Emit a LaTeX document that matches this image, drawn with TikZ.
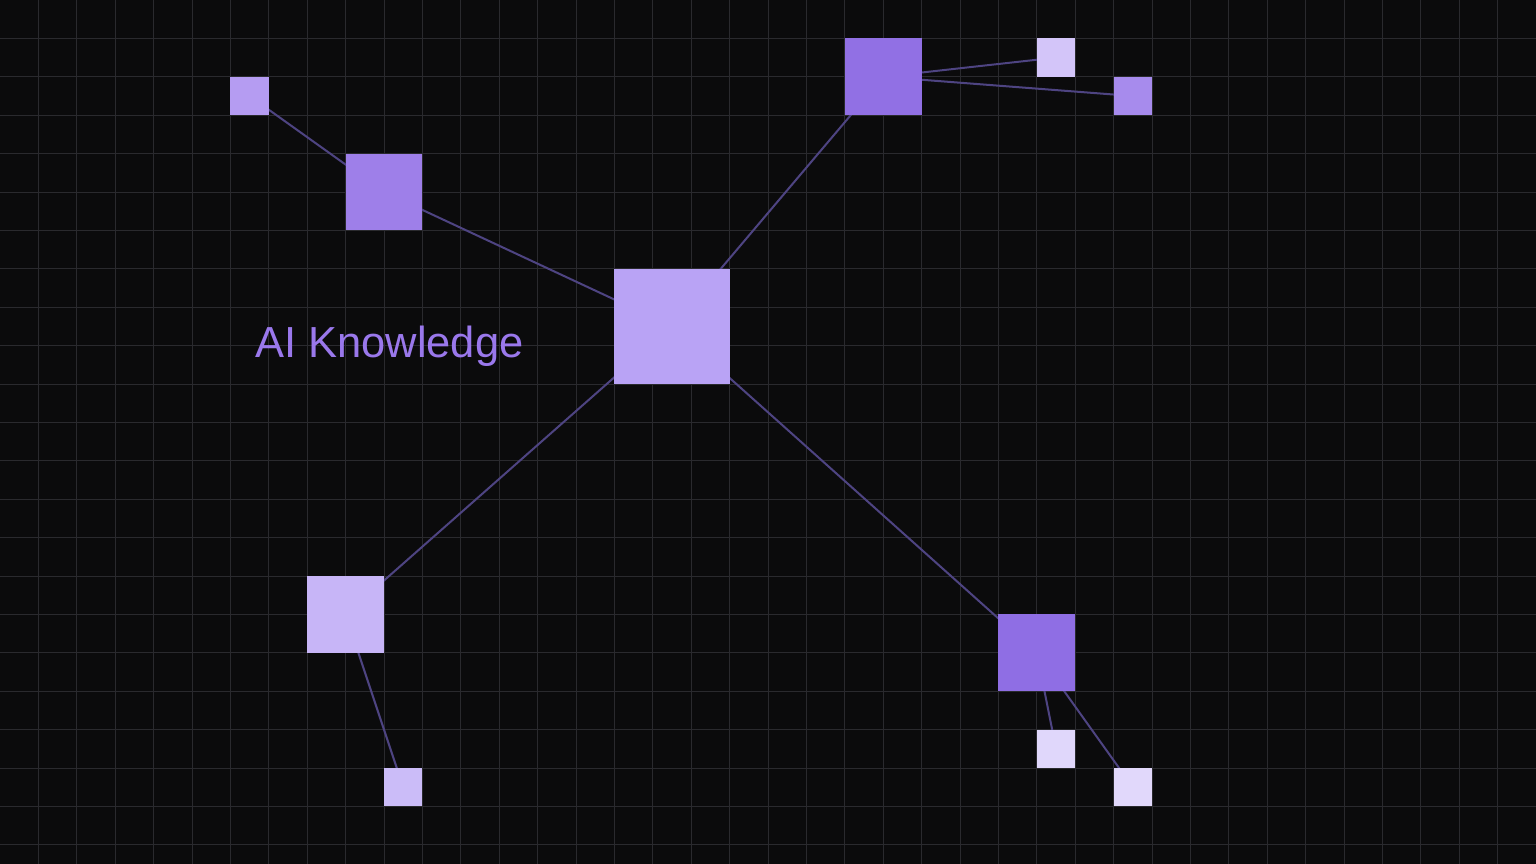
\documentclass[tikz,border=0pt]{standalone}
\usepackage{fontspec}
\setmainfont{Liberation Sans}
\pgfdeclarelayer{grid}
\pgfdeclarelayer{edges}
\pgfsetlayers{grid,edges,main}
\definecolor{bgc}{HTML}{0B0B0C}
\definecolor{gridc}{HTML}{2A2A2E}
\definecolor{edgec}{HTML}{4E4482}
\definecolor{txtc}{HTML}{9A78EC}
\definecolor{cA}{HTML}{B9A3F5}
\definecolor{cB}{HTML}{9E7FE9}
\definecolor{cC}{HTML}{B59CF2}
\definecolor{cD}{HTML}{9170E4}
\definecolor{cE}{HTML}{D3C5F9}
\definecolor{cF}{HTML}{A78BED}
\definecolor{cG}{HTML}{C7B5F7}
\definecolor{cH}{HTML}{CBBCF8}
\definecolor{cI}{HTML}{8F6EE4}
\definecolor{cJ}{HTML}{E0D7FB}
\definecolor{cK}{HTML}{E1D8FB}
\tikzset{
  sq/.style={draw=none, inner sep=0pt, outer sep=0pt, minimum size=#1*0.75pt},
  link/.style={draw=edgec, line width=1.5pt},
  gridline/.style={draw=gridc, line width=0.75pt},
}
\begin{document}
\begin{tikzpicture}[x=0.75pt,y=-0.75pt]
\useasboundingbox (0,0) rectangle (1536,864);
\begin{pgfonlayer}{grid}
\fill[bgc] (0,0) rectangle (1536,864);
\foreach \i in {1,...,39} \draw[gridline] (\i*38.4,0) -- (\i*38.4,864);
\foreach \j in {1,...,22} \draw[gridline] (0,\j*38.4) -- (1536,\j*38.4);
\end{pgfonlayer}
% nodes
\node[sq=115.2, fill=cA] (hub) at (672,326.4) {};
\node[sq=76.8, fill=cB] (ul) at (384,192) {};
\node[sq=38.4, fill=cC] (tl) at (249.6,96) {};
\node[sq=76.8, fill=cD] (top) at (883.2,76.8) {};
\node[sq=38.4, fill=cE] (tr1) at (1056,57.6) {};
\node[sq=38.4, fill=cF] (tr2) at (1132.8,96) {};
\node[sq=76.8, fill=cG] (ll) at (345.6,614.4) {};
\node[sq=38.4, fill=cH] (lls) at (403.2,787.2) {};
\node[sq=76.8, fill=cI] (lr) at (1036.8,652.8) {};
\node[sq=38.4, fill=cJ] (lr1) at (1056,748.8) {};
\node[sq=38.4, fill=cK] (lr2) at (1132.8,787.2) {};
\node[anchor=base west, inner sep=0pt, text=txtc, font=\fontsize{32.6}{38}\selectfont] (lbl) at (255,357) {AI Knowledge};
\begin{pgfonlayer}{edges}
\draw[link] (hub.center) -- (ul.center);
\draw[link] (ul.center) -- (tl.center);
\draw[link] (hub.center) -- (top.center);
\draw[link] (top.center) -- (tr1.center);
\draw[link] (top.center) -- (tr2.center);
\draw[link] (hub.center) -- (ll.center);
\draw[link] (ll.center) -- (lls.center);
\draw[link] (hub.center) -- (lr.center);
\draw[link] (lr.center) -- (lr1.center);
\draw[link] (lr.center) -- (lr2.center);
\end{pgfonlayer}
\end{tikzpicture}
\end{document}
